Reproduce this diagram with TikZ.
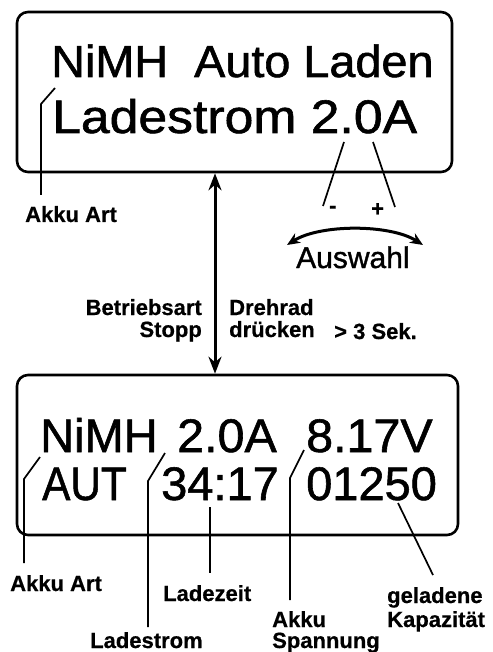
\documentclass[tikz,border=0pt]{standalone}
\usepackage{fontspec}
\setmainfont{Liberation Sans}
\newfontfamily\lcdfont[FakeBold=1.2]{Liberation Sans}
\newfontfamily\lblfont[FakeBold=0.6]{Liberation Sans Bold}
\usetikzlibrary{arrows.meta,calc}
\begin{document}
\begin{tikzpicture}[x=1pt,y=-1pt,
  box/.style={draw, line width=2.6pt, rounded corners=11pt, inner sep=0pt},
  lcdA/.style={font=\lcdfont\fontsize{45}{45}\selectfont, inner sep=0pt, anchor=base west},
  lcdB/.style={font=\lcdfont\fontsize{47}{47}\selectfont, inner sep=0pt, anchor=base west},
  lbl/.style={font=\lblfont\fontsize{22}{22}\selectfont, inner sep=0pt, anchor=base west},
  lble/.style={lbl, anchor=base east},
  ptr/.style={line width=1.7pt},
  dbl/.style={line width=3pt, {Stealth[length=17pt,width=13pt]}-{Stealth[length=17pt,width=13pt]}},
  sel/.style={line width=3pt, {Stealth[length=13pt,width=11pt]}-{Stealth[length=13pt,width=11pt]}}
]
\useasboundingbox (0,0) rectangle (492,652);

% boxes
\node[box, minimum width=435pt, minimum height=160pt] (top) at (234.5,92) {};
\node[box, minimum width=441pt, minimum height=160pt] (bot) at (237.5,455) {};

% top display
\node[lcdA] (t1) at (51,77) {\scalebox{1.04}[1]{NiMH\ \ Auto Laden}};
\node[lcdB] (t2) at (52,133) {\scalebox{1.1}[1]{Ladestrom 2.0A}};

% bottom display
\node[lcdB] (b1a) at (40,452) {NiMH};
\node[lcdB] (b1b) at (177,452) {\scalebox{1.03}[1]{2.0A}};
\node[lcdB] (b1c) at (306,452) {\scalebox{1.03}[1]{8.17V}};
\node[lcdB] (b2a) at (42,500) {\scalebox{0.9}[1]{AUT}};
\node[lcdB] (b2b) at (161,500) {34:17};
\node[lcdB] (b2c) at (306,500) {01250};

% top labels
\node[lbl] (akkuT) at (25,222) {Akku Art};
\node[lbl, font=\lcdfont\fontsize{30}{30}\selectfont] (ausw) at (296,268) {Auswahl};
\node[lbl] (minus) at (329,213) {-};
\node[lbl] (plus) at (371,216) {+};
\node[lble] (betr) at (202,315) {Betriebsart};
\node[lble] (stop) at (202,337) {Stopp};
\node[lbl] (dreh) at (229,315) {Drehrad};
\node[lbl] (druck) at (229,337) {drücken};
\node[lbl] (sek) at (334,339) {> 3 Sek.};

% bottom labels
\node[lbl] (akkuB) at (10,591) {Akku Art};
\node[lbl] (lzeit) at (163,601) {Ladezeit};
\node[lbl] (lstrom) at (90,648) {Ladestrom};
\node[lbl] (akku2) at (272,627) {Akku};
\node[lbl] (spann) at (272,648) {Spannung};
\node[lbl] (gel) at (387,603) {geladene};
\node[lbl] (kap) at (387,627) {Kapazität};

% coordinates for pointer lines
\coordinate (pa1) at (55,88);
\coordinate (pa2) at (41,104);
\coordinate (pm1) at (344,142);
\coordinate (pm2) at (323,206);
\coordinate (pp1) at (373,142);
\coordinate (pp2) at (395,207);
\coordinate (qa1) at (40,457);
\coordinate (qa2) at (24,479);
\coordinate (qs1) at (165,453);
\coordinate (qs2) at (148,481);
\coordinate (qz1) at (210,507);
\coordinate (qv1) at (304,450);
\coordinate (qv2) at (290,478);
\coordinate (qk1) at (398,503);
\coordinate (qk2) at (433,575);
\coordinate (sl) at (287,245);
\coordinate (sr) at (423,245);

% top pointers
\draw[ptr] (pa1) -- (pa2) -- (pa2 |- 0,195);
\draw[ptr] (pm1) -- (pm2);
\draw[ptr] (pp1) -- (pp2);
\draw[sel] (sl) .. controls (320,224) and (390,224) .. (sr);

% mode switch arrow
\draw[dbl] ([xshift=-19.5pt]top.south) -- ([xshift=-22.5pt]bot.north);

% bottom pointers
\draw[ptr] (qa1) -- (qa2) -- (qa2 |- 0,563);
\draw[ptr] (qs1) -- (qs2) -- (qs2 |- 0,627);
\draw[ptr] (qz1) -- (qz1 |- 0,573);
\draw[ptr] (qv1) -- (qv2) -- (qv2 |- 0,600);
\draw[ptr] (qk1) -- (qk2);
\end{tikzpicture}
\end{document}
